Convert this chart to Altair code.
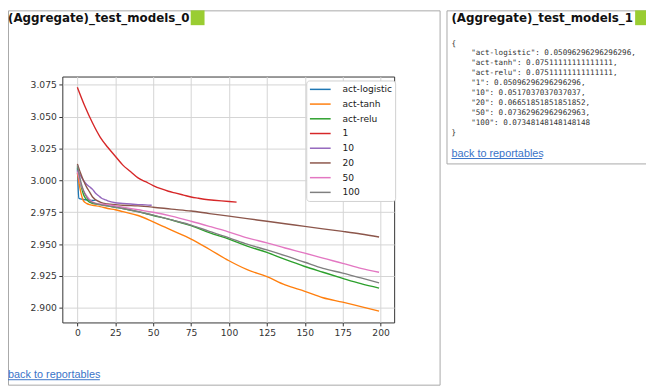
import altair as alt
import pandas as pd

# ---------------- data ----------------
series_names = ["act-logistic", "act-tanh", "act-relu", "1", "10", "20", "50", "100"]
series_colors = ["#1f77b4", "#ff7f0e", "#2ca02c", "#d62728",
                 "#9467bd", "#8c564b", "#e377c2", "#7f7f7f"]

epochs_long = [0, 2, 4, 6, 8, 10, 15, 20, 25, 30, 40, 50, 62, 75, 87,
               100, 112, 125, 137, 150, 162, 175, 187, 199]
loss_tanh = [3.006, 2.992, 2.984, 2.982, 2.981, 2.9805, 2.9795, 2.978, 2.977, 2.9755,
             2.9725, 2.9675, 2.961, 2.954, 2.946, 2.937, 2.930, 2.9245, 2.918, 2.913,
             2.908, 2.9045, 2.901, 2.8975]
loss_relu = [3.011, 2.998, 2.989, 2.985, 2.983, 2.982, 2.981, 2.980, 2.979, 2.978,
             2.9755, 2.9725, 2.969, 2.9645, 2.959, 2.954, 2.9485, 2.9435, 2.938, 2.9325,
             2.928, 2.9232, 2.919, 2.9155]
loss_20 = [3.013, 3.006, 3.000, 2.995, 2.991, 2.987, 2.983, 2.9815, 2.981, 2.9805,
           2.980, 2.979, 2.9775, 2.976, 2.974, 2.972, 2.970, 2.968, 2.966, 2.964,
           2.962, 2.960, 2.958, 2.9556]
loss_50 = [3.007, 2.998, 2.992, 2.988, 2.985, 2.983, 2.9815, 2.981, 2.980, 2.979,
           2.977, 2.975, 2.972, 2.968, 2.964, 2.9595, 2.955, 2.951, 2.947, 2.943,
           2.939, 2.935, 2.931, 2.928]
loss_100 = [3.012, 3.000, 2.992, 2.987, 2.984, 2.9825, 2.981, 2.980, 2.979, 2.978,
            2.9755, 2.9728, 2.969, 2.965, 2.960, 2.955, 2.950, 2.9455, 2.941, 2.9358,
            2.931, 2.9273, 2.9235, 2.9197]

epochs_logistic = [0, 1, 2, 4, 6, 8, 10, 12]
loss_logistic = [3.010, 2.986, 2.9855, 2.985, 2.9848, 2.9845, 2.9843, 2.9846]

epochs_1 = [0, 5, 10, 15, 20, 25, 30, 35, 40, 45, 50, 55, 60, 65, 70, 75, 80, 85,
            90, 95, 100, 105]
loss_1 = [3.073, 3.058, 3.045, 3.034, 3.026, 3.019, 3.012, 3.007, 3.002, 2.999,
          2.996, 2.9935, 2.9915, 2.990, 2.9885, 2.987, 2.986, 2.985, 2.9845, 2.984,
          2.9835, 2.983]

epochs_10 = [0, 2, 4, 6, 8, 10, 12, 14, 16, 18, 20, 25, 30, 35, 40, 45, 49]
loss_10 = [3.008, 3.004, 3.000, 2.997, 2.995, 2.993, 2.990, 2.988, 2.986, 2.985,
           2.984, 2.9825, 2.982, 2.9815, 2.981, 2.9808, 2.9805]

x_ticks = [0, 25, 50, 75, 100, 125, 150, 175, 200]
y_ticks = [2.900, 2.925, 2.950, 2.975, 3.000, 3.025, 3.050, 3.075]

json_keys = ["act-logistic", "act-tanh", "act-relu", "1", "10", "20", "50", "100"]
json_values = [0.05096296296296296, 0.07511111111111111, 0.07511111111111111,
               0.05096296296296296, 0.0517037037037037, 0.06651851851851852,
               0.07362962962962963, 0.07348148148148148]

panel_titles = ["(Aggregate)_test_models_0", "(Aggregate)_test_models_1"]
link_text = "back to reportables"

# ---------------- table ----------------
series_data = {
    "act-logistic": (epochs_logistic, loss_logistic),
    "act-tanh": (epochs_long, loss_tanh),
    "act-relu": (epochs_long, loss_relu),
    "1": (epochs_1, loss_1),
    "10": (epochs_10, loss_10),
    "20": (epochs_long, loss_20),
    "50": (epochs_long, loss_50),
    "100": (epochs_long, loss_100),
}
rows = []
for name in series_names:
    xs, ys = series_data[name]
    for xv, yv in zip(xs, ys):
        rows.append({"epoch": xv, "loss": yv, "series": name})
df = pd.DataFrame(rows)

json_lines = []
for i, (k, v) in enumerate(zip(json_keys, json_values)):
    sep = "," if i < len(json_keys) - 1 else ""
    json_lines.append(f'"{k}": {repr(v)}{sep}')

one = pd.DataFrame({"k": [0]})

# ---------------- main plot ----------------
axis_common = dict(grid=True, gridColor="#d4d4d4", gridWidth=1, domain=False,
                   ticks=True, tickSize=3.5, tickColor="#333333", tickWidth=1,
                   labelFont="DejaVu Sans", labelFontSize=9.3, labelColor="#333333",
                   labelPadding=2.5, title=None, labelOverlap=False)

lines = alt.Chart(df).mark_line(strokeWidth=1.4, clip=True, interpolate="monotone").encode(
    x=alt.X("epoch:Q",
            scale=alt.Scale(domain=[-9.95, 208.95], nice=False, zero=False),
            axis=alt.Axis(values=x_ticks, labelFlush=False, **axis_common)),
    y=alt.Y("loss:Q",
            scale=alt.Scale(domain=[2.8886, 3.0815], nice=False, zero=False),
            axis=alt.Axis(values=y_ticks, format=".3f", **axis_common)),
    color=alt.Color("series:N",
                    scale=alt.Scale(domain=series_names, range=series_colors),
                    legend=alt.Legend(title=None, orient="none", legendX=247, legendY=4,
                                      symbolType="M-2.1,0H2.1", symbolSize=100,
                                      symbolStrokeWidth=1.5, symbolOffset=5.2,
                                      labelFont="DejaVu Sans", labelFontSize=9.2,
                                      labelColor="#1a1a1a", labelOffset=16.5,
                                      padding=3, rowPadding=2.9,
                                      strokeColor="#d0d0d0", fillColor="#ffffff",
                                      cornerRadius=3)),
    detail="series:N",
)

# ---------------- page decorations (positions relative to plot origin) ----------------
def box(x1, x2, y1, y2):
    return alt.Chart(one).mark_rect(fill="transparent", stroke="#a8a8a8", strokeWidth=1).encode(
        x=alt.value(x1), x2=alt.value(x2), y=alt.value(y1), y2=alt.value(y2))

def square(x1, x2, y1, y2):
    return alt.Chart(one).mark_rect(fill="#9acd32").encode(
        x=alt.value(x1), x2=alt.value(x2), y=alt.value(y1), y2=alt.value(y2))

def title_text(txt, x, y):
    return alt.Chart(one).mark_text(align="left", baseline="alphabetic", font="DejaVu Sans",
                                    fontWeight="bold", fontSize=12, color="#111111").encode(
        x=alt.value(x), y=alt.value(y), text=alt.value(txt))

def link(x, y, w):
    t = alt.Chart(one).mark_text(align="left", baseline="alphabetic", font="Liberation Sans",
                                 fontSize=11, color="#3a73c8").encode(
        x=alt.value(x), y=alt.value(y), text=alt.value(link_text))
    u = alt.Chart(one).mark_rule(color="#3a73c8", strokeWidth=1).encode(
        x=alt.value(x), x2=alt.value(x + w), y=alt.value(y + 1.5))
    return [t, u]

left_box = box(-54.5, 382.5, -66.5, 312.5)
right_box = box(389.5, 620, -66.5, 88.5)

brace_open = alt.Chart(one).mark_text(align="left", baseline="alphabetic", font="DejaVu Sans Mono",
                                      fontSize=7.7, color="#333333").encode(
    x=alt.value(394), y=alt.value(-31), text=alt.value("{"))
brace_close = alt.Chart(one).mark_text(align="left", baseline="alphabetic", font="DejaVu Sans Mono",
                                       fontSize=7.7, color="#333333").encode(
    x=alt.value(394), y=alt.value(59.5), text=alt.value("}"))
json_body = alt.Chart(one).mark_text(align="left", baseline="alphabetic", font="DejaVu Sans Mono",
                                     fontSize=7.7, lineHeight=10.1, color="#333333").encode(
    x=alt.value(414), y=alt.value(-21.5), text=alt.value(json_lines))

layers = [left_box, right_box,
          title_text(panel_titles[0], -55, -55), square(130, 144, -67, -52),
          title_text(panel_titles[1], 394, -55), square(580, 594, -67, -52),
          brace_open, json_body, brace_close,
          *link(-55, 305.5, 93), *link(394, 81.5, 92),
          lines]

chart = alt.layer(*layers).properties(
    width=336, height=249,
    padding={"left": 55, "top": 67, "right": 255, "bottom": 65},
    autosize=alt.AutoSizeParams(type="none"),
    background="#ffffff",
).configure_view(stroke="#333333", strokeWidth=1)

chart.save("out.html", embed_options={"renderer": "svg", "actions": False})
